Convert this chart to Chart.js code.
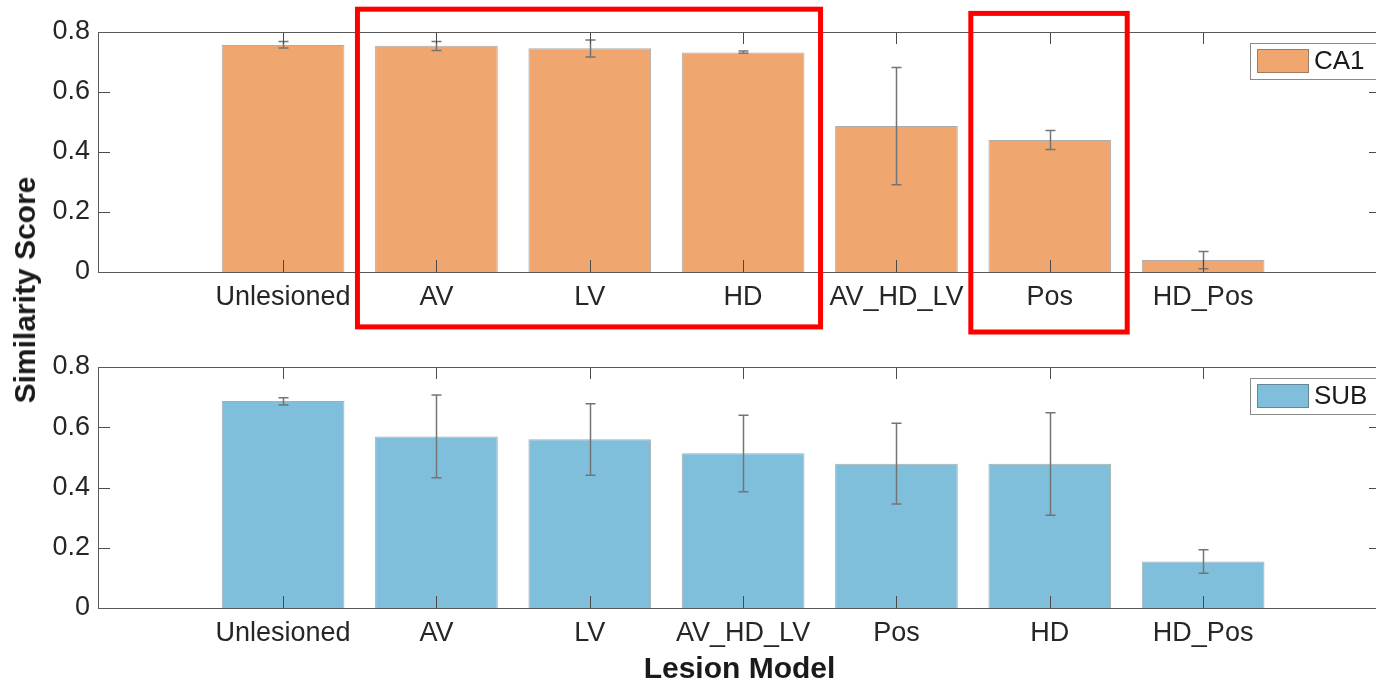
<!DOCTYPE html>
<html>
<head>
<meta charset="utf-8">
<script src="https://cdn.jsdelivr.net/npm/chart.js@4.4.1/dist/chart.umd.min.js"></script>
<style>
  html, body { margin: 0; padding: 0; background: #fff; overflow: hidden; }
  #wrap { position: relative; width: 1382px; height: 682px; }
  .panel { position: absolute; left: 0; width: 1382px; }
  #topPanel { top: 0; height: 340px; }
  #bottomPanel { top: 340px; height: 352px; }
  #ytitle {
    position: absolute; left: 25px; top: 290px;
    transform: translate(-50%, -50%) rotate(-90deg);
    font: bold 30px "Liberation Sans", Arial, sans-serif;
    color: #1a1a1a; white-space: nowrap;
  }
</style>
</head>
<body>
<div id="wrap">
  <div class="panel" id="topPanel"><canvas id="chart"></canvas></div>
  <div class="panel" id="bottomPanel"><canvas id="chart2"></canvas></div>
  <div id="ytitle">Similarity Score</div>
</div>
<script>
// CA1 panel (top)
const ca1Labels = ['Unlesioned', 'AV', 'LV', 'HD', 'AV_HD_LV', 'Pos', 'HD_Pos'];
const ca1Values = [0.757, 0.754, 0.746, 0.732, 0.487, 0.440, 0.040];
const ca1Low = [0.747, 0.738, 0.717, 0.729, 0.291, 0.408, 0.011];
const ca1High = [0.768, 0.768, 0.773, 0.737, 0.682, 0.472, 0.068];

// SUB panel (bottom)
const subLabels = ['Unlesioned', 'AV', 'LV', 'AV_HD_LV', 'Pos', 'HD', 'HD_Pos'];
const subValues = [0.687, 0.569, 0.560, 0.514, 0.479, 0.479, 0.154];
const subLow = [0.674, 0.432, 0.441, 0.386, 0.345, 0.308, 0.115];
const subHigh = [0.698, 0.707, 0.678, 0.640, 0.613, 0.648, 0.193];

const yTicks = [0, 0.2, 0.4, 0.6, 0.8];

Chart.defaults.font.family = '"Liberation Sans", Arial, Helvetica, sans-serif';
Chart.defaults.animation = false;

// error bars drawn from dataset.errLow / errHigh through the scales
const errorBars = {
    id: 'errorBars',
    afterDatasetsDraw(chart) {
        const ctx = chart.ctx;
        const x = chart.scales.x, y = chart.scales.y;
        const ds = chart.data.datasets[0];
        ctx.save();
        ctx.strokeStyle = '#747474';
        ctx.lineWidth = 1.5;
        ds.errLow.forEach((lo, i) => {
            const px = Math.round(x.getPixelForValue(i + 1)) + 0.5;
            const y1 = y.getPixelForValue(lo);
            const y2 = y.getPixelForValue(ds.errHigh[i]);
            ctx.beginPath();
            ctx.moveTo(px, y1); ctx.lineTo(px, y2);
            ctx.moveTo(px - 5, y1); ctx.lineTo(px + 5, y1);
            ctx.moveTo(px - 5, y2); ctx.lineTo(px + 5, y2);
            ctx.stroke();
        });
        ctx.restore();
    }
};

// matlab style box with inward ticks on all four sides
const frame = {
    id: 'frame',
    afterDatasetsDraw(chart) {
        const ctx = chart.ctx;
        const { left, right, top, bottom } = chart.chartArea;
        const x = chart.scales.x, y = chart.scales.y;
        const tl = 12;
        ctx.save();
        ctx.lineWidth = 1;
        ctx.strokeStyle = '#4a4a4a';
        x.ticks.forEach(t => {
            const px = Math.round(x.getPixelForValue(t.value)) + 0.5;
            ctx.beginPath();
            ctx.moveTo(px, bottom); ctx.lineTo(px, bottom - tl);
            ctx.moveTo(px, top); ctx.lineTo(px, top + tl);
            ctx.stroke();
        });
        y.ticks.forEach(t => {
            const py = Math.round(y.getPixelForValue(t.value)) + 0.5;
            ctx.beginPath();
            ctx.moveTo(left, py); ctx.lineTo(left + tl, py);
            ctx.moveTo(right, py); ctx.lineTo(right - tl, py);
            ctx.stroke();
        });
        ctx.strokeStyle = '#5a5a5a';
        ctx.strokeRect(Math.round(left) + 0.5, Math.round(top) + 0.5,
            Math.round(right - left) - 1, Math.round(bottom - top));
        ctx.restore();
    }
};

// legend box in the upper right corner
const boxLegend = {
    id: 'boxLegend',
    afterDraw(chart) {
        const ctx = chart.ctx;
        const ds = chart.data.datasets[0];
        const { right, top } = chart.chartArea;
        const bx = right - 131, by = top + 11, bw = 126, bh = 36;
        ctx.save();
        ctx.fillStyle = '#fff';
        ctx.fillRect(bx, by, bw, bh);
        ctx.strokeStyle = '#8a8a8a';
        ctx.lineWidth = 1;
        ctx.strokeRect(bx + 0.5, by + 0.5, bw, bh);
        ctx.fillStyle = ds.backgroundColor;
        ctx.fillRect(bx + 7, by + 6, 52, 24);
        ctx.strokeStyle = 'rgba(80,80,80,0.5)';
        ctx.strokeRect(bx + 7.5, by + 6.5, 51, 23);
        ctx.fillStyle = '#1a1a1a';
        ctx.font = '26px "Liberation Sans", Arial, sans-serif';
        ctx.textBaseline = 'middle';
        ctx.fillText(ds.label, bx + 64, by + bh / 2 + 1);
        ctx.restore();
    }
};

// red highlight rectangles around groups of categories
function highlightBoxes(groups) {
    return {
        id: 'highlightBoxes',
        afterDraw(chart) {
            const ctx = chart.ctx;
            const x = chart.scales.x, y = chart.scales.y;
            ctx.save();
            ctx.strokeStyle = '#ff0000';
            ctx.lineWidth = 5;
            groups.forEach(g => {
                const x1 = x.getPixelForValue(g.from - 0.515);
                const x2 = x.getPixelForValue(g.to + 0.505);
                const y1 = y.getPixelForValue(g.top);
                const y2 = y.getPixelForValue(g.bottom);
                ctx.strokeRect(x1, y1, x2 - x1, y2 - y1);
            });
            ctx.restore();
        }
    };
}

function makeChart(id, name, labels, values, low, high, color, padTop, xHeight, xTitle, extra) {
    const ctx = document.getElementById(id).getContext('2d');
    return new Chart(ctx, {
        type: 'bar',
        data: {
            datasets: [{
                label: name,
                data: values.map((v, i) => ({ x: i + 1, y: v })),
                errLow: low,
                errHigh: high,
                backgroundColor: color,
                borderColor: 'rgba(90,90,90,0.5)',
                borderWidth: 1,
                categoryPercentage: 1,
                barPercentage: 0.8
            }]
        },
        options: {
            responsive: true,
            maintainAspectRatio: false,
            animation: false,
            layout: { padding: { top: padTop, right: 1, left: 0, bottom: 0 } },
            plugins: { legend: { display: false }, tooltip: { enabled: false } },
            scales: {
                x: {
                    type: 'linear',
                    min: -0.207,
                    max: 8.16,
                    offset: false,
                    grid: { display: false, drawTicks: false },
                    border: { display: false },
                    afterBuildTicks: s => { s.ticks = labels.map((_, i) => ({ value: i + 1 })); },
                    afterFit: s => { s.height = xHeight; },
                    ticks: {
                        autoSkip: false, maxRotation: 0, padding: 9,
                        color: '#262626', font: { size: 27 },
                        callback: v => labels[v - 1]
                    },
                    title: {
                        display: !!xTitle,
                        text: xTitle || '',
                        color: '#1a1a1a',
                        font: { size: 30, weight: 'bold' },
                        padding: { top: 0, bottom: 4 }
                    }
                },
                y: {
                    min: 0,
                    max: 0.8,
                    grid: { display: false, drawTicks: false },
                    border: { display: false },
                    afterBuildTicks: s => { s.ticks = yTicks.map(v => ({ value: v })); },
                    afterFit: s => { s.width = 98; },
                    ticks: {
                        padding: 8, color: '#262626', font: { size: 27 },
                        callback: v => String(v)
                    }
                }
            }
        },
        plugins: [errorBars, frame, boxLegend].concat(extra || [])
    });
}

makeChart('chart', 'CA1', ca1Labels, ca1Values, ca1Low, ca1High, '#efa76f', 32, 68, null,
    [highlightBoxes([
        { from: 2, to: 4, top: 0.876, bottom: -0.183 },
        { from: 6, to: 6, top: 0.862, bottom: -0.2 }
    ])]);

makeChart('chart2', 'SUB', subLabels, subValues, subLow, subHigh, '#7fbfdc', 27, 84, 'Lesion Model');
</script>
</body>
</html>
